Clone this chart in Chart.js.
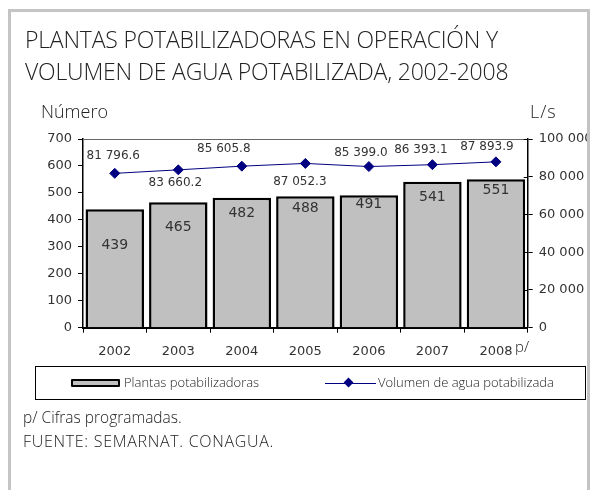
<!DOCTYPE html>
<html>
<head>
<meta charset="utf-8">
<script src="https://cdn.jsdelivr.net/npm/chart.js@4.4.1/dist/chart.umd.min.js"></script>
<style>
  html, body { margin:0; padding:0; background:#fff; width:596px; height:490px; overflow:hidden; }
  body { position:relative; font-family:"Open Sans", sans-serif; color:#222; }
  #clip { position:absolute; left:0; top:0; width:587px; height:490px; overflow:hidden; }
  #frame { position:absolute; left:8px; top:9px; width:576px; height:500px; border:3px solid #c4c4c4; box-sizing:content-box; }
  .t { position:absolute; white-space:nowrap; font-weight:300; }
  #title1 { left:25px; top:23px; font-size:23px; letter-spacing:-0.2px; }
  #title2 { left:25px; top:55.4px; font-size:23px; letter-spacing:-0.2px; }
  #ylab { left:41px; top:98.5px; font-size:18px; }
  #y2lab { left:530px; top:98.5px; font-size:18px; letter-spacing:1px; }
  #psup { left:515px; top:336px; font-size:15px; }
  #legend { position:absolute; left:35px; top:366px; width:549px; height:32px; border:1px solid #000; }
  #sw1 { position:absolute; left:35px; top:12px; width:45px; height:4px; border:2px solid #000; background:#c0c0c0; border-radius:1px; }
  #lt1 { left:88px; top:6px; font-size:13px; }
  #sw2 { position:absolute; left:289px; top:16px; width:51px; height:1px; background:#000080; }
  #dia { position:absolute; left:309px; top:12px; width:7px; height:7px; background:#000080; transform:rotate(45deg); }
  #lt2 { left:342px; top:6px; font-size:13px; }
  #note1 { left:23px; top:406px; font-size:15.5px; }
  #note2 { left:23px; top:430px; font-size:16px; letter-spacing:0.7px; }
</style>
</head>
<body>
<div id="clip"><canvas id="c" width="596" height="490"></canvas></div>
<div id="frame"></div>
<div class="t" id="title1">PLANTAS POTABILIZADORAS EN OPERACIÓN Y</div>
<div class="t" id="title2">VOLUMEN DE AGUA POTABILIZADA, 2002-2008</div>
<div class="t" id="ylab">Número</div>
<div class="t" id="y2lab">L/s</div>
<div class="t" id="psup">p/</div>
<div id="legend">
  <div id="sw1"></div><div class="t" id="lt1">Plantas potabilizadoras</div>
  <div id="sw2"></div><div id="dia"></div><div class="t" id="lt2">Volumen de agua potabilizada</div>
</div>
<div class="t" id="note1">p/ Cifras programadas.</div>
<div class="t" id="note2">FUENTE: SEMARNAT. CONAGUA.</div>
<script>
const years = ["2002","2003","2004","2005","2006","2007","2008"];
const plantas = [439, 465, 482, 488, 491, 541, 551];
const volumen = [81796.6, 83660.2, 85605.8, 87052.3, 85399.0, 86393.1, 87893.9];
const leftTicks = [0,100,200,300,400,500,600,700];
const rightTicks = [0,20000,40000,60000,80000,100000];

// label placement (pixel offsets relative to the mark)
const lineLabelDx = [-1.5, -3, -18, -5.5, -8, -11.5, -9];
const lineLabelDy = [-17.6, 13, -17, 18.5, -14, -15, -15];
const barLabelDy = [36, 25, 15.5, 12, 9, 15, 11];

function fmtSpace(v, dec) {
  const s = v.toFixed(dec);
  const parts = s.split('.');
  const ip = parts[0].replace(/\B(?=(\d{3})+(?!\d))/g, ' ');
  return parts.length > 1 ? ip + '.' + parts[1] : ip;
}

const labelPlugin = {
  id: 'labels',
  afterDatasetsDraw(chart) {
    const ctx = chart.ctx;
    const ca = chart.chartArea;
    ctx.save();
    // top border of plot
    ctx.strokeStyle = '#666';
    ctx.lineWidth = 1;
    ctx.beginPath();
    ctx.moveTo(ca.left, Math.round(ca.top) + 0.5);
    ctx.lineTo(ca.right, Math.round(ca.top) + 0.5);
    ctx.stroke();
    // right axis inner tick marks
    const y1 = chart.scales.y1;
    ctx.strokeStyle = '#000';
    rightTicks.forEach(v => {
      const yy = Math.round(y1.getPixelForValue(v)) + 0.5;
      ctx.beginPath(); ctx.moveTo(ca.right - 4, yy); ctx.lineTo(ca.right, yy); ctx.stroke();
    });
    // bar labels
    const barMeta = chart.getDatasetMeta(0);
    ctx.fillStyle = '#333';
    ctx.font = '14px "DejaVu Sans"';
    ctx.textAlign = 'center';
    ctx.textBaseline = 'middle';
    barMeta.data.forEach((el, i) => {
      ctx.fillText(String(plantas[i]), el.x, el.y + barLabelDy[i]);
    });
    // line labels
    const lineMeta = chart.getDatasetMeta(1);
    ctx.font = '12px "DejaVu Sans"';
    lineMeta.data.forEach((el, i) => {
      ctx.fillText(fmtSpace(volumen[i], 1), el.x + lineLabelDx[i], el.y + lineLabelDy[i]);
    });
    ctx.restore();
  }
};

const tickFont = { family: 'DejaVu Sans', size: 13 };

new Chart(document.getElementById('c'), {
  data: {
    labels: years,
    datasets: [
      {
        type: 'bar', label: 'Plantas potabilizadoras', data: plantas, yAxisID: 'y',
        backgroundColor: '#c0c0c0', borderColor: '#000', borderWidth: 2.5,
        categoryPercentage: 1, barPercentage: 0.92, order: 2
      },
      {
        type: 'line', label: 'Volumen de agua potabilizada', data: volumen, yAxisID: 'y1',
        borderColor: '#000080', borderWidth: 1, pointStyle: 'rectRot', pointRadius: 5,
        pointBackgroundColor: '#000080', pointBorderColor: '#000080', order: 1
      }
    ]
  },
  options: {
    responsive: false, animation: false, devicePixelRatio: 1,
    layout: { padding: { top: 139, left: 0, right: 0, bottom: 122.3 } },
    plugins: { legend: { display: false }, tooltip: { enabled: false } },
    scales: {
      x: {
        offset: true,
        grid: { offset: true, drawOnChartArea: false, tickLength: 5, color: '#000' },
        border: { color: '#000', width: 2 },
        ticks: { font: tickFont, color: '#333', padding: 11, maxRotation: 0 },
        afterFit: s => { s.height = 40; }
      },
      y: {
        position: 'left', min: 0, max: 700,
        afterBuildTicks: s => { s.ticks = leftTicks.map(v => ({ value: v })); },
        grid: { drawOnChartArea: false, tickLength: 5, color: '#000' },
        border: { color: '#000', width: 1.5 },
        ticks: { font: tickFont, color: '#333', padding: 6 },
        afterFit: s => { s.width = 83; }
      },
      y1: {
        position: 'right', min: 0, max: 100000,
        afterBuildTicks: s => { s.ticks = rightTicks.map(v => ({ value: v })); },
        grid: { drawOnChartArea: false, tickLength: 5, color: '#000' },
        border: { color: '#000', width: 1.5 },
        ticks: { font: tickFont, color: '#333', padding: 6, callback: v => fmtSpace(v, 0) },
        afterFit: s => { s.width = 68.3; }
      }
    }
  },
  plugins: [labelPlugin]
});
</script>
</body>
</html>
